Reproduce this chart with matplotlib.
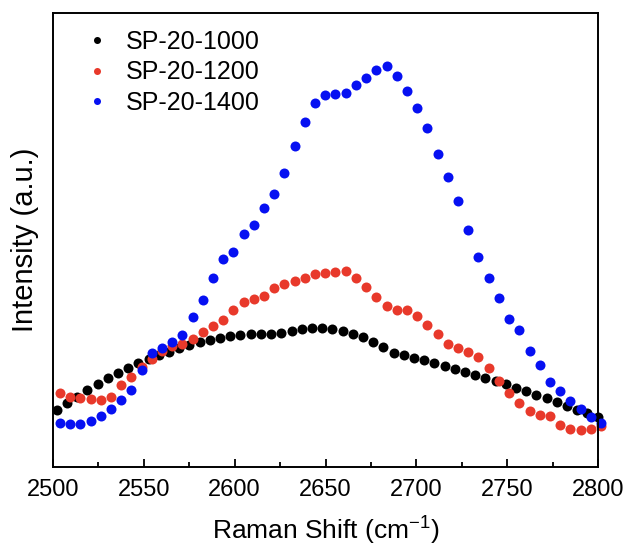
import matplotlib
matplotlib.use('Agg')
import matplotlib.pyplot as plt
from matplotlib.ticker import MultipleLocator

plt.rcParams['font.family'] = ['Liberation Sans', 'DejaVu Sans']

# Raman shift grids (cm-1)
shift_1000 = [2502.0, 2507.6, 2513.2, 2518.9, 2524.5, 2530.1, 2535.7, 2541.3, 2547.0,
              2552.6, 2558.2, 2563.8, 2569.4, 2575.1, 2580.7, 2586.3, 2591.9, 2597.5,
              2603.2, 2608.8, 2614.4, 2620.0, 2625.6, 2631.3, 2636.9, 2642.5, 2648.1,
              2653.7, 2659.4, 2665.0, 2670.6, 2676.2, 2681.8, 2687.5, 2693.1, 2698.7,
              2704.3, 2709.9, 2715.6, 2721.2, 2726.8, 2732.4, 2738.0, 2743.7, 2749.3,
              2754.9, 2760.5, 2766.1, 2771.8, 2777.4, 2783.0, 2788.6, 2794.2, 2799.9]
shift_hi = [2503.8, 2509.4, 2515.0, 2520.7, 2526.3, 2531.9, 2537.5, 2543.1, 2548.8,
            2554.4, 2560.0, 2565.6, 2571.2, 2576.9, 2582.5, 2588.1, 2593.7, 2599.3,
            2605.0, 2610.6, 2616.2, 2621.8, 2627.4, 2633.1, 2638.7, 2644.3, 2649.9,
            2655.5, 2661.2, 2666.8, 2672.4, 2678.0, 2683.6, 2689.3, 2694.9, 2700.5,
            2706.1, 2711.7, 2717.4, 2723.0, 2728.6, 2734.2, 2739.8, 2745.5, 2751.1,
            2756.7, 2762.3, 2767.9, 2773.6, 2779.2, 2784.8, 2790.4, 2796.0, 2801.7]

# intensities (a.u.)
sp1000 = [57.0, 63.7, 70.3, 77.0, 83.0, 88.7, 94.0, 99.0, 103.7, 107.7, 112.0, 115.3,
          118.7, 122.0, 124.7, 127.0, 129.3, 131.0, 132.3, 133.3, 133.3, 132.7, 134.3,
          136.3, 137.8, 138.5, 138.5, 138.0, 135.7, 132.7, 130.0, 125.0, 119.7, 114.3,
          111.7, 109.3, 106.7, 104.0, 101.3, 98.3, 95.3, 92.0, 89.0, 86.3, 83.0, 79.3,
          75.7, 72.3, 68.7, 64.7, 60.7, 57.0, 53.7, 49.7]
sp1200 = [74.3, 70.3, 68.5, 67.8, 66.8, 70.3, 81.7, 90.2, 100.3, 107.8, 115.5, 120.5,
          122.7, 128.0, 135.0, 141.0, 146.7, 156.5, 164.7, 168.2, 171.3, 179.3, 183.3,
          186.0, 188.5, 192.7, 194.3, 195.3, 196.3, 188.8, 180.3, 170.0, 161.0, 157.0,
          156.7, 151.3, 141.7, 133.3, 123.3, 119.3, 114.7, 110.3, 98.8, 86.0, 73.8, 64.2,
          56.2, 52.3, 50.5, 41.7, 38.0, 36.8, 37.8, 40.8]
sp1400 = [44.3, 43.0, 43.3, 46.3, 51.0, 58.0, 67.3, 77.0, 97.3, 113.7, 118.7, 125.3,
          132.3, 149.7, 166.7, 188.7, 207.5, 215.3, 232.7, 242.3, 259.3, 273.0, 293.7,
          321.0, 345.3, 364.0, 372.0, 373.0, 374.3, 382.0, 389.3, 397.0, 401.0, 391.3,
          376.3, 359.3, 338.7, 313.3, 290.0, 266.3, 236.7, 210.3, 189.0, 168.5, 148.0,
          137.0, 116.3, 101.8, 85.0, 76.3, 66.3, 57.8, 50.3, 44.3]

labels = ['SP-20-1000', 'SP-20-1200', 'SP-20-1400']
colors = ['black', '#e8392b', '#0610f2']

fig = plt.figure(figsize=(6.29, 5.52), dpi=100)
ax = fig.add_axes([0.0843, 0.154, 0.8664, 0.8225])

for x, y, c, lab in zip([shift_1000, shift_hi, shift_hi], [sp1000, sp1200, sp1400], colors, labels):
    ax.plot(x, y, 'o', color=c, ms=7.2, mew=0, label=lab, clip_on=False)

ax.set_xlim(2500, 2800)
ax.set_ylim(0, 454)
ax.xaxis.set_major_locator(MultipleLocator(50))
ax.xaxis.set_minor_locator(MultipleLocator(25))
ax.tick_params(axis='x', which='major', direction='in', length=6, width=1.3,
               labelsize=17, pad=9)
ax.tick_params(axis='x', which='minor', direction='in', length=3.5, width=1.3)
ax.set_yticks([])
for s in ax.spines.values():
    s.set_linewidth(1.4)

ax.set_xlabel('Raman Shift (cm$^{\\mathregular{-1}}$)', fontsize=19, labelpad=8)
ax.set_ylabel('Intensity (a.u.)', fontsize=21, labelpad=10)

ax.legend(loc='upper left', bbox_to_anchor=(0.012, 1.012), frameon=False, fontsize=18,
          markerscale=0.7, handletextpad=0.55, labelspacing=0.25, handlelength=1.2)

plt.savefig('out.png', dpi=100)
